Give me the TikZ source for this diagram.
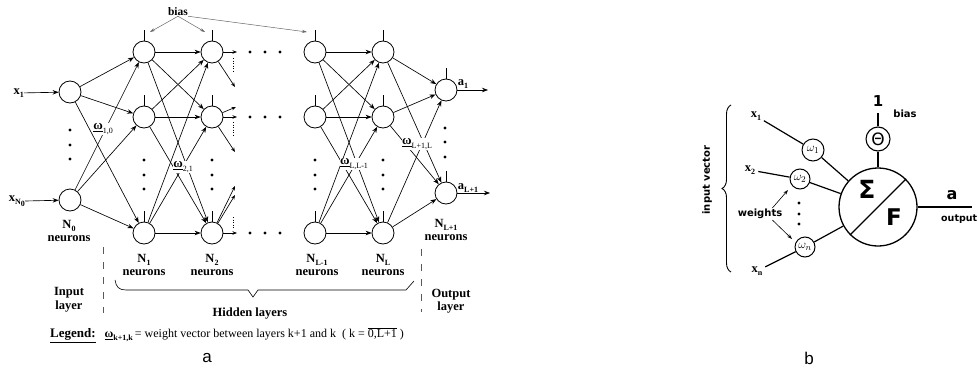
\documentclass[tikz,border=0pt]{standalone}
\usepackage{fontspec}
\setmainfont{Liberation Serif}
\newfontfamily\dvsans{DejaVu Sans}
\newfontfamily\capsans{Liberation Sans}
\usetikzlibrary{arrows.meta,decorations.pathreplacing}

% small lowered index in the current font
\newcommand\lo[1]{\raisebox{-.55ex}{\fontsize{8}{8}\selectfont #1}}
% underlined weight symbol with its index
\newcommand\wgt[1]{\underline{ω}\lo{#1}}
\newcommand\wgtm[1]{\underline{ω}\lo{\mdseries #1}}

\begin{document}
\begin{tikzpicture}[x=1pt,y=-1pt,
  neuron/.style={circle,draw,line width=0.8pt,minimum size=22pt,inner sep=0pt},
  conn/.style={line width=0.65pt,-{Stealth[length=6pt,width=4.5pt]}},
  stub/.style={line width=0.65pt,-{Stealth[length=4.5pt,width=3.5pt]}},
  biasarr/.style={line width=0.5pt,gray!80!black,-{Stealth[length=5pt,width=3pt]}},
  tickline/.style={line width=0.7pt},
  lbl/.style={font=\fontsize{12.5}{13.5}\selectfont\bfseries,align=center,inner sep=0pt},
  wl/.style={font=\fontsize{13}{13}\selectfont\bfseries,fill=white,inner sep=0.5pt},
  laydash/.style={line width=0.6pt,gray!70!black,dash pattern=on 7pt off 8pt},
  bline/.style={line width=1.2pt},
  bsans/.style={font=\dvsans\bfseries\fontsize{10}{11}\selectfont,inner sep=0pt},
  wc/.style={circle,draw,line width=1pt,inner sep=0pt,font=\fontsize{12.5}{12.5}\selectfont},
  dot/.style={fill=black},
  subcap/.style={font=\capsans\fontsize{17}{17}\selectfont,inner sep=0pt}
]
\useasboundingbox (0,0) rectangle (979,372);

% ---------------- multilayer network ----------------
\node[neuron] (i1) at (70,92) {};
\node[neuron] (i2) at (70,200) {};
\foreach \r/\y in {a/52,b/117,c/233} {
  \node[neuron] (h1\r) at (144,\y) {};
  \node[neuron] (h2\r) at (212,\y) {};
  \node[neuron] (hp\r) at (315,\y) {};
  \node[neuron] (hl\r) at (383,\y) {};
}
\node[neuron] (o1) at (446,90) {};
\node[neuron] (o2) at (446,193) {};

% bias inputs
\foreach \n in {h1a,h1b,h1c,h2a,h2b,h2c,hpa,hpb,hpc,hla,hlb,hlc,o1,o2}
  \draw[tickline] (\n.north) -- ++(0,-11);

% full connections between consecutive layers
\foreach \s in {i1,i2} \foreach \t in {h1a,h1b,h1c} \draw[conn] (\s) -- (\t);
\foreach \s in {h1a,h1b,h1c} \foreach \t in {h2a,h2b,h2c} \draw[conn] (\s) -- (\t);
\foreach \s in {hpa,hpb,hpc} \foreach \t in {hla,hlb,hlc} \draw[conn] (\s) -- (\t);
\foreach \s in {hla,hlb,hlc} \foreach \t in {o1,o2} \draw[conn] (\s) -- (\t);

% outgoing stubs of the second hidden layer
\coordinate (sa1) at (237,52);  \coordinate (sa2) at (235,87);
\coordinate (sb0) at (236,107); \coordinate (sb1) at (237,117); \coordinate (sb2) at (235,152);
\coordinate (sc0) at (235,186); \coordinate (sc1) at (235,195); \coordinate (sc2) at (237,233);
\foreach \t in {sa1,sa2} \draw[stub] (h2a) -- (\t);
\foreach \t in {sb0,sb1,sb2} \draw[stub] (h2b) -- (\t);
\foreach \t in {sc0,sc1,sc2} \draw[stub] (h2c) -- (\t);
\draw[line width=0.6pt,dash pattern=on 1pt off 1.5pt] (233,58) -- (233,73);
\draw[line width=0.6pt,dash pattern=on 1pt off 1.5pt] (233,122) -- (233,135);
\draw[line width=0.6pt,dash pattern=on 1pt off 1.5pt] (233,217) -- (233,229);

% ellipses
\foreach \y in {52,117,233} \foreach \x in {250,265,280} \fill[dot] (\x,\y) circle (1.7pt);
\foreach \y in {130,145,159} \fill[dot] (70,\y) circle (1.7pt);
\foreach \x in {144,212,315,383} \foreach \y in {160,175,189} \fill[dot] (\x,\y) circle (1.7pt);
\foreach \y in {128,142,157} \fill[dot] (445,\y) circle (1.7pt);

% inputs and outputs
\node[lbl,anchor=east] (x1) at (24,93) {x\lo{1}};
\node[lbl,anchor=east] (xn) at (25,201) {x\lo{N\lo{0}}};
\draw[conn] (x1) -- (i1);
\draw[conn] (xn.east) -- (i2);
\coordinate (oe1) at (488,90);
\coordinate (oe2) at (490,193);
\draw[conn] (o1) -- (oe1);
\draw[conn] (o2) -- (oe2);
\node[lbl] at (463,84) {a\lo{1}};
\node[lbl] at (468,188) {a\lo{L+1}};

% weight labels
\node[wl] at (103,129) {\wgtm{1,0}};
\node[wl] at (183,167) {\wgtm{2,1}};
\node[wl] at (354,164) {\wgtm{L,L-1}};
\node[wl] at (417,144) {\wgtm{L+1,L}};

% bias label and pointers
\node[font=\fontsize{11.5}{12}\selectfont\bfseries,inner sep=0pt] (bias) at (178,12) {bias};
\coordinate (ba) at (150,32);
\coordinate (bb) at (205,32);
\coordinate (bc) at (307,32);
\draw[biasarr] (bias.south) -- (ba);
\draw[biasarr] (bias.south) -- (bb);
\draw[biasarr] (bias.south east) -- (bc);

% layer captions
\node[lbl] at (69,231) {N\lo{0}\\neurons};
\node[lbl] at (144,265) {N\lo{1}\\neurons};
\node[lbl] at (212,265) {N\lo{2}\\neurons};
\node[lbl] at (317,265) {N\lo{L-1}\\neurons};
\node[lbl] at (383,265) {N\lo{L}\\neurons};
\node[lbl] at (446,230) {N\lo{L+1}\\neurons};
\node[lbl] at (69,300) {Input\\layer};
\node[lbl] at (451,301) {Output\\layer};
\node[lbl] at (250,314) {Hidden layers};

\draw[laydash] (103,247) -- (103,313);
\draw[laydash] (421,249) -- (421,312);
\draw[line width=0.6pt] (115,280) .. controls (116,287) and (119,290) .. (126,290)
  -- (248,290) -- (253,297) -- (258,290) -- (406,290) -- (414,281);

% legend
\node[anchor=west,inner sep=0pt,font=\fontsize{12}{13}\selectfont] at (50,335)
  {{\fontsize{13}{14}\selectfont\bfseries\underline{Legend:}}\hspace{9pt}{\bfseries\wgt{k+1,k}}\,= weight vector between layers k+1 and k \ ( k = $\overline{\mbox{0,L+1}}$ )};

\node[subcap] at (207,358) {a};

% ---------------- single neuron ----------------
\node[circle,draw,line width=1.3pt,minimum size=78pt,inner sep=0pt] (sum) at (878,207) {};
\draw[bline] (sum.south west) -- (sum.north east);
\node[font=\dvsans\bfseries\fontsize{25}{25}\selectfont,inner sep=0pt] at (867,189) {Σ};
\node[font=\dvsans\bfseries\fontsize{23}{23}\selectfont,inner sep=0pt] at (894,217) {F};

\node[circle,draw,line width=1.1pt,minimum size=24pt,inner sep=0pt] (theta) at (878,139)
  {\dvsans\fontsize{17}{17}\selectfont Θ};
\coordinate (one) at (878,113);
\draw[bline] (sum) -- (theta);
\draw[bline] (theta) -- (one);
\node[font=\dvsans\bfseries\fontsize{15}{15}\selectfont,inner sep=0pt] at (878,101) {1};
\node[bsans] at (905,114) {bias};

\coordinate (outend) at (972,207);
\draw[bline] (sum) -- (outend);
\node[font=\dvsans\bfseries\fontsize{16}{16}\selectfont,inner sep=0pt] at (952,195) {a};
\node[bsans,anchor=west,font=\dvsans\bfseries\fontsize{9.5}{10}\selectfont] at (941,219) {output};

\node[wc,minimum size=22pt] (w1) at (813,150) {$\omega_1$};
\node[wc,minimum size=20pt] (w2) at (800,179) {$\omega_2$};
\node[wc,minimum size=20pt] (wn) at (805,247) {$\omega_n$};

\node[lbl] (bx1) at (756,116) {x\lo{1}};
\node[lbl] (bx2) at (750,170) {x\lo{2}};
\node[lbl] (bxn) at (757,271) {x\lo{n}};
\draw[bline,shorten <=3pt] (bx1) -- (w1);
\draw[bline,shorten <=3pt] (bx2) -- (w2);
\draw[bline,shorten <=3pt] (bxn) -- (wn);
\draw[bline] (w1) -- (sum);
\draw[bline] (w2) -- (sum);
\draw[bline] (wn) -- (sum);

\foreach \y in {203,214,224} \fill[dot] (799,\y) circle (1.7pt);

\node[bsans] (wts) at (760,214) {weights};
\coordinate (wa) at (788,190);
\coordinate (wb) at (792,239);
\draw[line width=0.6pt,-{Stealth[length=5pt,width=3.5pt,open]}] ([xshift=-10pt,yshift=1pt]wts.north east) -- (wa);
\draw[line width=0.6pt,-{Stealth[length=5pt,width=3.5pt,open]}] ([xshift=-10pt,yshift=-1pt]wts.south east) -- (wb);

\draw[decorate,decoration={brace,amplitude=9pt},line width=0.9pt] (731,272) -- (731,105);
\node[bsans,rotate=90] at (707,180) {input vector};

\node[subcap] at (809,358) {b};
\end{tikzpicture}
\end{document}
